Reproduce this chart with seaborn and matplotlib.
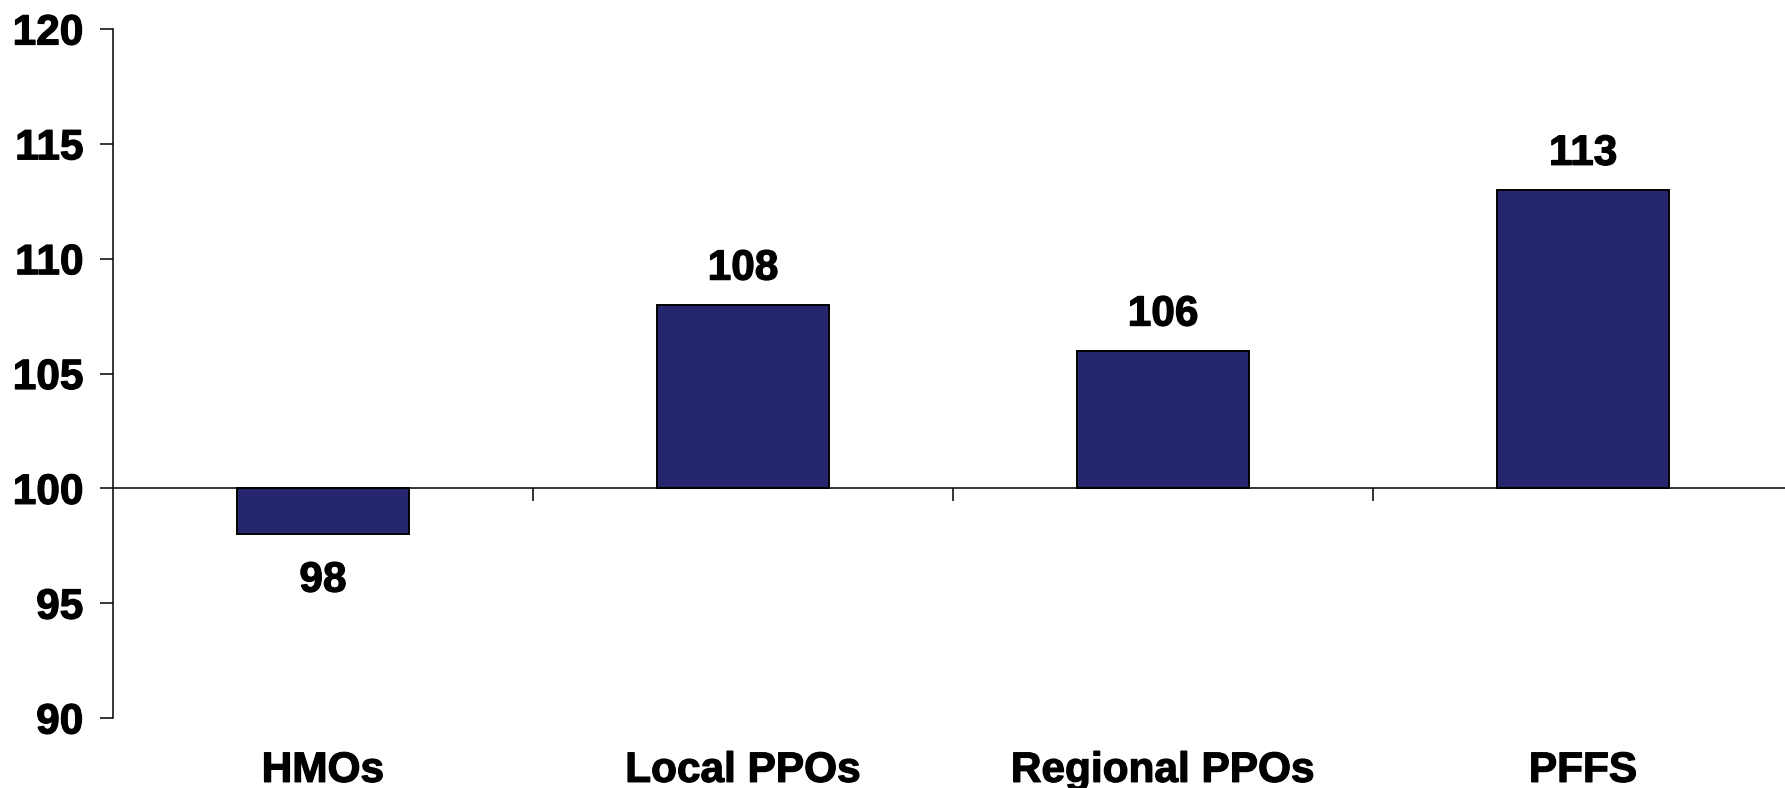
import matplotlib
matplotlib.use("Agg")
import matplotlib.pyplot as plt
import matplotlib.patheffects as pe
import seaborn as sns
from matplotlib.ticker import FuncFormatter, FixedLocator

categories = ["HMOs", "Local PPOs", "Regional PPOs", "PFFS"]
values = [98, 108, 106, 113]
baseline = 100
y_ticks = [90, 95, 100, 105, 110, 115, 120]

sns.set_theme(style="white")
plt.rcParams["font.family"] = ["Liberation Sans", "DejaVu Sans"]

fig = plt.figure(figsize=(17.85, 7.88), dpi=100)
ax = fig.add_axes([113 / 1785, 1 - 718 / 788, (1793 - 113) / 1785, (718 - 29) / 788])

offsets = [v - baseline for v in values]
sns.barplot(x=categories, y=offsets, ax=ax, color="#25266B", saturation=1,
            width=0.41, edgecolor="black", linewidth=1.4)

ax.set_xlim(-0.5, 3.5)
ax.set_ylim(y_ticks[0] - baseline, y_ticks[-1] - baseline)
ax.yaxis.set_major_locator(FixedLocator([t - baseline for t in y_ticks]))
ax.yaxis.set_major_formatter(FuncFormatter(lambda v, p: f"{v + baseline:.0f}"))

for s in ["top", "right"]:
    ax.spines[s].set_visible(False)
ax.spines["left"].set_color("black")
ax.spines["left"].set_linewidth(1.1)
ax.spines["bottom"].set_color("black")
ax.spines["bottom"].set_linewidth(1.1)
ax.spines["bottom"].set_position(("data", 0))

heavy = [pe.withStroke(linewidth=0.9, foreground="black")]
FS = 30.5

ax.tick_params(axis="y", which="major", direction="out", length=9.4, width=1.1,
               color="black", pad=12, left=True, labelsize=FS, labelcolor="black")
for lab in ax.get_yticklabels():
    lab.set_fontweight("bold")
    lab.set_path_effects(heavy)

ax.xaxis.set_minor_locator(FixedLocator([0.5, 1.5, 2.5]))
ax.tick_params(axis="x", which="minor", direction="out", length=9.4, width=1.1,
               color="black", bottom=True)
ax.tick_params(axis="x", which="major", length=0, pad=189, labelsize=FS,
               labelcolor="black")
for lab in ax.get_xticklabels():
    lab.set_fontweight("bold")
    lab.set_path_effects(heavy)
ax.set_xlabel("")
ax.set_ylabel("")

cont = ax.containers[0]
pos_labels = [str(v) if v >= baseline else "" for v in values]
neg_labels = [str(v) if v < baseline else "" for v in values]
t1 = ax.bar_label(cont, labels=pos_labels, padding=11.5, fontsize=FS, fontweight="bold", color="black")
t2 = ax.bar_label(cont, labels=neg_labels, padding=19, fontsize=FS, fontweight="bold", color="black")
for t in list(t1) + list(t2):
    t.set_path_effects(heavy)

fig.savefig("out.png", dpi=100, facecolor="white")
